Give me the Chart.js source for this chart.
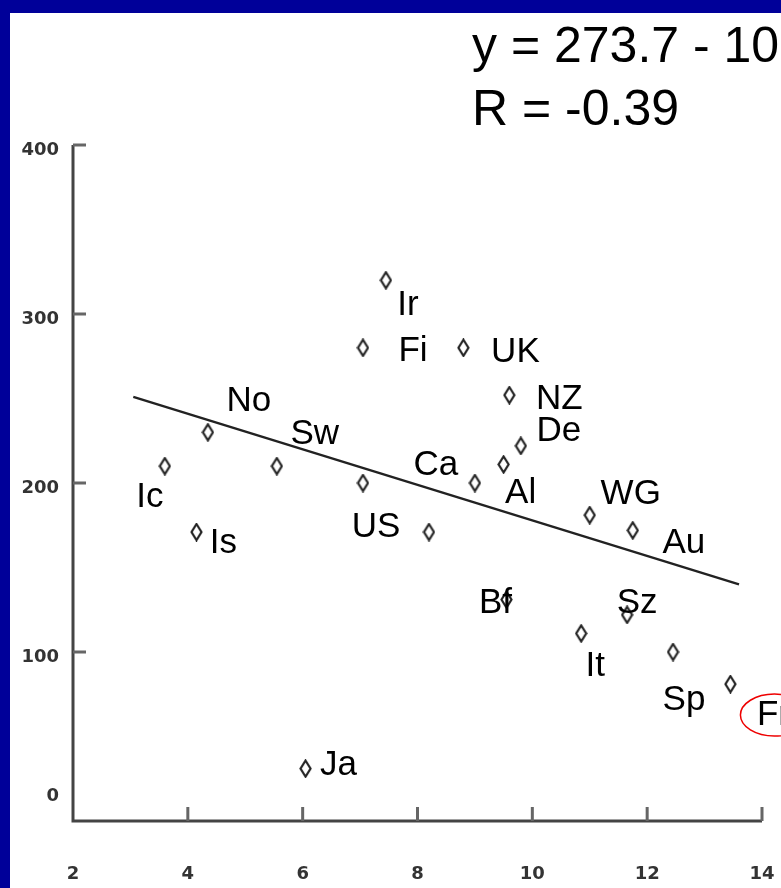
<!DOCTYPE html>
<html>
<head>
<meta charset="utf-8">
<style>
  html, body { margin: 0; padding: 0; background: #000099; }
  canvas { display: block; }
</style>
<script src="https://cdn.jsdelivr.net/npm/chart.js@4.4.1/dist/chart.umd.min.js"></script>
</head>
<body>
<canvas id="myChart" width="781" height="888"></canvas>
<script>
const ctx = document.getElementById("myChart").getContext("2d");

// countries and their values
const countries = ['Ic', 'Is', 'No', 'Sw', 'US', '', 'Ca', 'Ir', 'Fi', 'UK', 'NZ', 'De', 'Al', 'WG', 'Au', 'Bf', 'Sz', 'It', 'Sp', 'Fr', 'Ja'];
const xValues = [3.6, 4.15, 4.35, 5.55, 7.05, 8.2, 9.0, 7.45, 7.05, 8.8, 9.6, 9.8, 9.5, 11.0, 11.75, 9.55, 11.65, 10.85, 12.45, 13.45, 6.05];
const yValues = [210, 171, 230, 210, 200, 171, 200, 320, 280, 280, 252, 222, 211, 181, 172, 131, 122, 111, 100, 81, 31];

// regression line end points
const fitX = [3.05, 13.6];
const fitY = [251, 140];

const xTicks = [2, 4, 6, 8, 10, 12, 14];
const yTicks = [0, 100, 200, 300, 400];

const titleLines = ['y = 273.7 - 10.4x', 'R = -0.39'];

// label offsets from each point, in pixels
const labelDx = [-15, 27, 41, 38, 13, 0, -39, 22, 50, 52, 50, 38, 17, 41, 51, -11, 10, 14, 11, 43, 33];
const labelDy = [31, 11, -31, -32, 44, 0, -18, 25, 4, 5, 4, -14, 29, -21, 13, 4, -11, 33, 48, 31, -3];

// tall open diamond used as point marker
const diamond = document.createElement('canvas');
diamond.width = 13;
diamond.height = 19;
(function () {
   const d = diamond.getContext('2d');
   d.beginPath();
   d.moveTo(6.5, 1.5);
   d.lineTo(11.5, 9.5);
   d.lineTo(6.5, 17.5);
   d.lineTo(1.5, 9.5);
   d.closePath();
   d.fillStyle = '#fff';
   d.fill();
   d.lineWidth = 2.2;
   d.strokeStyle = '#222';
   d.stroke();
})();

const decor = {
   id: 'decor',
   beforeDraw(chart) {
      const c = chart.ctx;
      c.save();
      c.fillStyle = '#000099';
      c.fillRect(0, 0, chart.width, chart.height);
      c.fillStyle = '#fff';
      c.fillRect(10, 13, chart.width - 10, chart.height - 13);
      c.restore();
   },
   beforeDatasetsDraw(chart) {
      const c = chart.ctx;
      const xs = chart.scales.x, ys = chart.scales.y;
      const x0 = xs.getPixelForValue(xTicks[0]);
      const y0 = ys.getPixelForValue(yTicks[0]);
      c.save();
      c.strokeStyle = '#444';
      c.lineWidth = 3;
      c.beginPath();
      c.moveTo(x0, ys.getPixelForValue(yTicks[yTicks.length - 1]));
      c.lineTo(x0, y0);
      c.lineTo(xs.getPixelForValue(xTicks[xTicks.length - 1]), y0);
      c.stroke();

      c.lineWidth = 3;
      c.strokeStyle = '#666';
      c.beginPath();
      yTicks.slice(1).forEach(v => {
         const py = ys.getPixelForValue(v);
         c.moveTo(x0, py);
         c.lineTo(x0 + 13, py);
      });
      xTicks.slice(1).forEach(v => {
         const px = xs.getPixelForValue(v);
         c.moveTo(px, y0);
         c.lineTo(px, y0 - 14);
      });
      c.stroke();

      c.fillStyle = '#333';
      c.font = 'bold 18px "DejaVu Sans"';
      c.textBaseline = 'middle';
      c.textAlign = 'right';
      yTicks.forEach(v => {
         let py = ys.getPixelForValue(v) + 5;
         if (v === 0) py -= 30;
         c.fillText(String(v), x0 - 14, py);
      });
      c.textAlign = 'center';
      xTicks.forEach(v => {
         c.fillText(String(v), xs.getPixelForValue(v), y0 + 53);
      });
      c.restore();
   },
   afterDraw(chart) {
      const c = chart.ctx;
      const xs = chart.scales.x, ys = chart.scales.y;
      c.save();
      c.fillStyle = '#000';
      c.font = '35px "Liberation Sans"';
      c.textAlign = 'center';
      c.textBaseline = 'middle';
      countries.forEach((name, i) => {
         if (!name) return;
         const px = xs.getPixelForValue(xValues[i]) + labelDx[i];
         const py = ys.getPixelForValue(yValues[i]) + labelDy[i];
         c.fillText(name, px, py);
         if (name === 'Fr') {
            c.strokeStyle = '#e00';
            c.lineWidth = 1.5;
            c.beginPath();
            c.ellipse(px + 1, py, 34, 21, 0, 0, Math.PI * 2);
            c.stroke();
         }
      });

      c.font = '50px "Liberation Sans"';
      c.textAlign = 'left';
      c.textBaseline = 'alphabetic';
      c.fillText(titleLines[0], 472, 62);
      c.fillText(titleLines[1], 472, 125);
      c.restore();
   }
};

const data = {
   datasets: [
      {
         type: 'scatter',
         data: xValues.map((x, i) => ({ x, y: yValues[i] })),
         pointStyle: diamond,
         pointRadius: 6,
         clip: false,
      },
      {
         type: 'line',
         data: fitX.map((x, i) => ({ x, y: fitY[i] })),
         borderColor: '#222',
         borderWidth: 2.4,
         pointRadius: 0,
         fill: false,
         clip: false,
      }
   ]
};

const config = {
   type: 'scatter',
   data: data,
   options: {
      responsive: false,
      animation: false,
      layout: {
         padding: { left: 73, right: 19, top: 145, bottom: 67 }
      },
      plugins: {
         legend: { display: false },
         tooltip: { enabled: false }
      },
      scales: {
         x: { type: 'linear', min: 2, max: 14, display: false },
         y: { type: 'linear', min: 0, max: 400, display: false }
      }
   },
   plugins: [decor]
};

const myChart = new Chart(ctx, config);
</script>
</body>
</html>
